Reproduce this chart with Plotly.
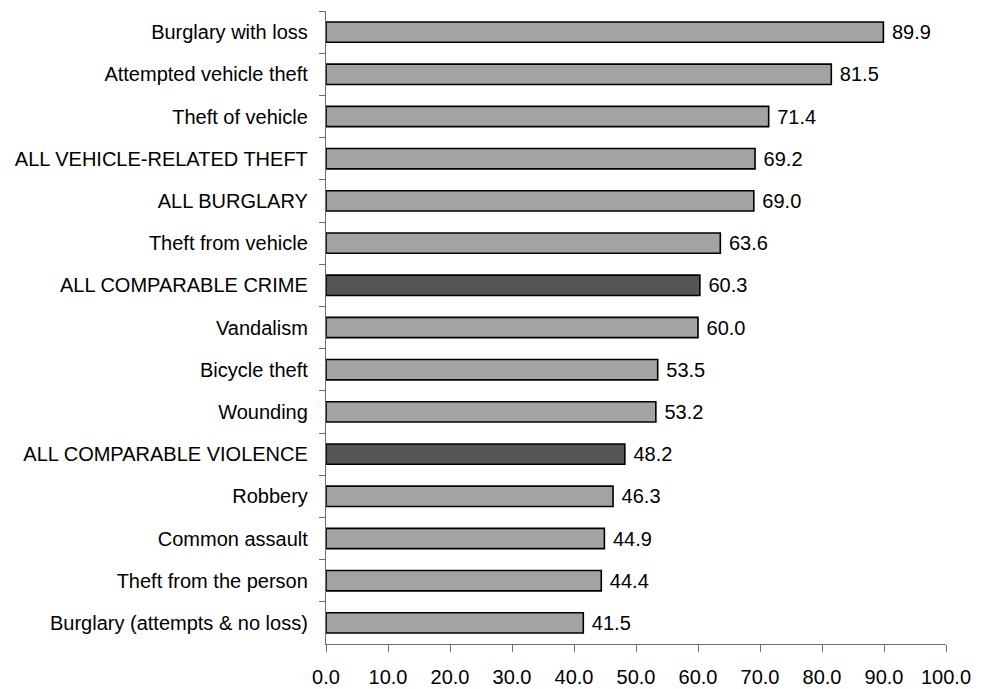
import plotly.graph_objects as go

categories = [
    "Burglary with loss",
    "Attempted vehicle theft",
    "Theft of vehicle",
    "ALL VEHICLE-RELATED THEFT",
    "ALL BURGLARY",
    "Theft from vehicle",
    "ALL COMPARABLE CRIME",
    "Vandalism",
    "Bicycle theft",
    "Wounding",
    "ALL COMPARABLE VIOLENCE",
    "Robbery",
    "Common assault",
    "Theft from the person",
    "Burglary (attempts & no loss)",
]
values = [89.9, 81.5, 71.4, 69.2, 69.0, 63.6, 60.3, 60.0, 53.5, 53.2, 48.2, 46.3, 44.9, 44.4, 41.5]
highlight = ["ALL COMPARABLE CRIME", "ALL COMPARABLE VIOLENCE"]
x_ticks = [0, 10, 20, 30, 40, 50, 60, 70, 80, 90, 100]

colors = ["#555555" if c in highlight else "#A3A3A3" for c in categories]

FONT = "Liberation Sans, Arial, sans-serif"
FS = 20

fig = go.Figure(go.Bar(
    x=values,
    y=categories,
    orientation="h",
    marker=dict(color=colors, line=dict(color="#000000", width=1.6)),
    width=0.48,
    text=[f" {v:.1f}" for v in values],
    textposition="outside",
    constraintext="none",
    textfont=dict(family=FONT, size=FS, color="#000000"),
    cliponaxis=False,
    hoverinfo="skip",
))

fig.update_layout(
    width=983,
    height=689,
    margin=dict(l=326, r=37, t=11, b=45, autoexpand=False),
    paper_bgcolor="white",
    plot_bgcolor="white",
    showlegend=False,
    font=dict(family=FONT, size=FS, color="#000000"),
    xaxis=dict(
        range=[0, 100],
        tickvals=x_ticks,
        tickformat=".1f",
        ticks="outside",
        ticklen=7,
        tickcolor="#6e6e6e",
        tickwidth=1.3,
        showline=True,
        linecolor="#6e6e6e",
        linewidth=1.3,
        showgrid=False,
        zeroline=False,
        automargin=False,
        ticklabelstandoff=8,
        tickfont=dict(family=FONT, size=FS, color="#000000"),
    ),
    yaxis=dict(
        categoryorder="array",
        categoryarray=categories,
        autorange="reversed",
        ticks="outside",
        tickson="boundaries",
        ticklen=6,
        tickcolor="#6e6e6e",
        tickwidth=1.3,
        showline=True,
        linecolor="#6e6e6e",
        linewidth=1.3,
        showgrid=False,
        zeroline=False,
        automargin=False,
        ticklabelstandoff=13,
        tickfont=dict(family=FONT, size=FS, color="#000000"),
    ),
)

fig.write_html("out.html")
